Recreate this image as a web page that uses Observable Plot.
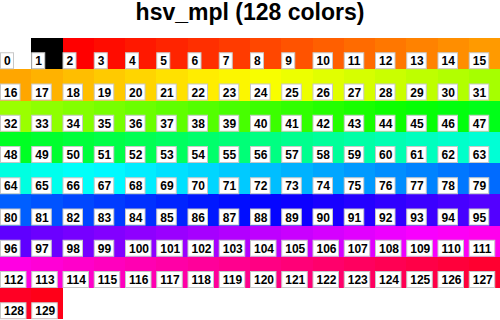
<!DOCTYPE html>
<html>
<head>
<meta charset="utf-8">
<script src="https://cdn.jsdelivr.net/npm/d3@7"></script>
<script src="https://cdn.jsdelivr.net/npm/@observablehq/plot@0.6"></script>
<style>
  html, body { margin: 0; padding: 0; background: #fff; }
  #title { width: 500px; height: 38px; overflow: visible; }
  #title span { display: block; text-align: center; font-family: "Liberation Sans", Arial, Helvetica, sans-serif; font-weight: bold; font-size: 23px; line-height: 24px; color: #000; }
  #chart svg { display: block; }
</style>
</head>
<body>
<div id="title"><span id="titletext"></span></div>
<div id="chart"></div>
<script>
const titleText = "hsv_mpl (128 colors)";
const ncols = 16;
// first two reserved cells (background / foreground)
const specialColors = ["#ffffff", "#000000"];
// the 128 colormap colors, cells 2..129
const cmapColors = [
  "#ff0000","#ff0c00","#ff1800","#ff2400","#ff2f00","#ff3b00","#ff4700","#ff5300",
  "#ff5f00","#ff6b00","#ff7700","#ff8200","#ff8e00","#ff9a00","#ffa600","#ffb200",
  "#ffbe00","#ffca00","#ffd500","#ffe100","#ffed00","#fcf600","#f8fe00","#edff00",
  "#e1ff00","#d6ff00","#caff00","#beff00","#b2ff00","#a6ff00","#9aff00","#8eff00",
  "#83ff00","#77ff00","#6bff00","#5fff00","#53ff00","#47ff00","#3bff00","#30ff00",
  "#24ff00","#18ff00","#0cff00","#05ff05","#01ff0d","#00ff18","#00ff24","#00ff2f",
  "#00ff3b","#00ff47","#00ff53","#00ff5f","#00ff6b","#00ff77","#00ff82","#00ff8e",
  "#00ff9a","#00ffa6","#00ffb2","#00ffbe","#00ffca","#00ffd5","#00ffe1","#00ffed",
  "#00fff9","#00f9ff","#00edff","#00e1ff","#00d6ff","#00caff","#00beff","#00b2ff",
  "#00a6ff","#009aff","#008eff","#0083ff","#0077ff","#006bff","#005fff","#0053ff",
  "#0047ff","#003bff","#0030ff","#0024ff","#0018ff","#010dff","#0505ff","#0c00ff",
  "#1800ff","#2300ff","#2f00ff","#3b00ff","#4700ff","#5300ff","#5f00ff","#6b00ff",
  "#7600ff","#8200ff","#8e00ff","#9a00ff","#a600ff","#b200ff","#be00ff","#c900ff",
  "#d500ff","#e100ff","#ed00ff","#f800fe","#fc00f6","#ff00ed","#ff00e2","#ff00d6",
  "#ff00ca","#ff00be","#ff00b2","#ff00a6","#ff009a","#ff008e","#ff0083","#ff0077",
  "#ff006b","#ff005f","#ff0053","#ff0047","#ff003b","#ff0030","#ff0024","#ff0018"
];

document.getElementById("titletext").textContent = titleText;

const allColors = specialColors.concat(cmapColors);
const cells = allColors.map((c, i) => ({
  label: String(i),
  color: c,
  col: i % ncols,
  row: Math.floor(i / ncols)
}));
const nrows = Math.ceil(cells.length / ncols);

const W = 500;
const cell = W / ncols;
const H = cell * nrows;
const boxH = 16.5;
const boxW = {1: 13.5, 2: 20, 3: 26};

const labelBoxes = [1, 2, 3].map(n => Plot.rect(cells.filter(d => d.label.length === n), {
  x1: "col", x2: d => d.col + 1,
  y1: "row", y2: d => d.row + 1,
  insetLeft: 0.5, insetRight: cell - boxW[n],
  insetTop: cell - boxH, insetBottom: 0.5,
  fill: "#ffffff", stroke: "#c8c8c8", strokeWidth: 1
}));

const chart = Plot.plot({
  width: W,
  height: Math.ceil(H),
  margin: 0,
  style: { fontFamily: '"Liberation Sans", Arial, Helvetica, sans-serif', background: "#fff" },
  x: { domain: [0, ncols], range: [0, W], axis: null },
  y: { domain: [0, nrows], range: [0, H], axis: null },
  color: { type: "identity" },
  marks: [
    Plot.rect(cells, {
      x1: "col", x2: d => d.col + 1,
      y1: "row", y2: d => d.row + 1,
      fill: "color", shapeRendering: "crispEdges"
    }),
    ...labelBoxes,
    Plot.text(cells, {
      x: "col", y: d => d.row + 1, text: "label",
      textAnchor: "start", dx: 3.5, dy: -boxH / 2,
      fontSize: 12, fontWeight: "bold", fill: "#000", lineAnchor: "middle"
    })
  ]
});
document.getElementById("chart").appendChild(chart);
</script>
</body>
</html>
